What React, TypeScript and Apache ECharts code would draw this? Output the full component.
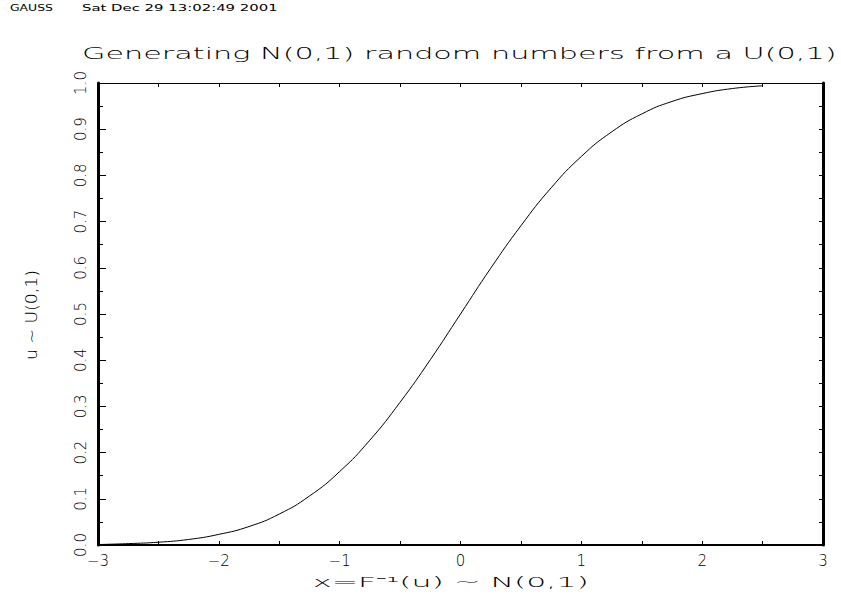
import React, { useEffect, useRef } from "react";
import * as echarts from "echarts";

const xValues = [-3, -2.75, -2.5, -2.25, -2, -1.75, -1.5, -1.25, -1, -0.75, -0.5, -0.25, 0, 0.25, 0.5, 0.75, 1, 1.25, 1.5, 1.75, 2, 2.25, 2.5];
const uValues = [0.001, 0.003, 0.006, 0.012, 0.023, 0.04, 0.067, 0.106, 0.159, 0.227, 0.309, 0.401, 0.5, 0.599, 0.691, 0.773, 0.841, 0.894, 0.933, 0.96, 0.977, 0.988, 0.994];
const xTickLabels: Record<string, string> = { "-3": "−3", "-2": "−2", "-1": "−1", "0": "0", "1": "1", "2": "2", "3": "3" };
const titleText = "Generating N(0,1) random numbers from a U(0,1)";
const headerLeft = "GAUSS";
const headerRight = "Sat Dec 29 13:02:49 2001";
const xName = "x=F⁻¹(u) ~ N(0,1)";
const yName = "u ~ U(0,1)";

const FONT = "DejaVu Sans";

function measure(text: string, size: number, weight: string | number) {
  const c = document.createElement("canvas").getContext("2d");
  if (!c) return text.length * size * 0.55;
  c.font = `${weight} ${size}px "${FONT}"`;
  return c.measureText(text).width;
}

export default function App() {
  const ref = useRef<HTMLDivElement>(null);
  useEffect(() => {
    if (!ref.current) return;
    const chart = echarts.init(ref.current, null, { renderer: "svg" });
    const titleSize = 15;
    const titleScale = 755 / measure(titleText, titleSize, 200);
    const xNameSize = 14;
    const xNameScale = 277 / measure(xName, xNameSize, 200);
    const yNameSize = 15;
    const yNameScale = 90 / measure(yName, yNameSize, 200);
    const hSize = 8;
    const h1Scale = 43 / measure(headerLeft, hSize, "normal");
    const h2Scale = 196 / measure(headerRight, hSize, "normal");

    const tickCommon = { show: true, inside: true, lineStyle: { color: "#000", width: 1 } };
    chart.setOption({
      animation: false,
      backgroundColor: "#fff",
      grid: { left: 98, right: 18, top: 83, bottom: 51, containLabel: false },
      xAxis: [
        {
          type: "value", min: -3, max: 3, interval: 1, position: "bottom",
          axisLine: { show: true, onZero: false, lineStyle: { color: "#000", width: 2 } },
          axisTick: { ...tickCommon, length: 4 },
          minorTick: { ...tickCommon, splitNumber: 2, length: 4 },
          splitLine: { show: false },
          axisLabel: {
            margin: 8, color: "#000", fontFamily: FONT, fontWeight: 200, fontSize: 15,
            formatter: (v: number) => xTickLabels[String(v)] ?? String(v),
          },
        },
        {
          type: "value", min: -3, max: 3, interval: 1, position: "top",
          axisLine: { show: true, onZero: false, lineStyle: { color: "#000", width: 1 } },
          axisTick: { ...tickCommon, length: 4 },
          minorTick: { ...tickCommon, splitNumber: 2, length: 4 },
          splitLine: { show: false },
          axisLabel: { show: false },
        },
      ],
      yAxis: [
        {
          type: "value", min: 0, max: 1, interval: 0.1, position: "left",
          axisLine: { show: true, onZero: false, lineStyle: { color: "#000", width: 3 } },
          axisTick: { ...tickCommon, length: 8 },
          minorTick: { ...tickCommon, splitNumber: 2, length: 5 },
          splitLine: { show: false },
          axisLabel: {
            rotate: 90, margin: 10, color: "#000", fontFamily: FONT, fontWeight: 200, fontSize: 15,
            formatter: (v: number) => v.toFixed(1),
          },
        },
        {
          type: "value", min: 0, max: 1, interval: 0.1, position: "right",
          axisLine: { show: true, onZero: false, lineStyle: { color: "#000", width: 3 } },
          axisTick: { ...tickCommon, length: 4 },
          minorTick: { ...tickCommon, splitNumber: 2, length: 4 },
          splitLine: { show: false },
          axisLabel: { show: false },
        },
      ],
      graphic: [
        {
          type: "text", x: 10, y: 4, scaleX: h1Scale,
          style: { text: headerLeft, font: `normal ${hSize}px "${FONT}"`, fill: "#000" },
        },
        {
          type: "text", x: 82, y: 4, scaleX: h2Scale,
          style: { text: headerRight, font: `normal ${hSize}px "${FONT}"`, fill: "#000" },
        },
        {
          type: "text", x: 82, y: 46, scaleX: titleScale,
          style: { text: titleText, font: `200 ${titleSize}px "${FONT}"`, fill: "#000" },
        },
        {
          type: "text", x: 313, y: 575, scaleX: xNameScale,
          style: { text: xName, font: `200 ${xNameSize}px "${FONT}"`, fill: "#000" },
        },
        {
          type: "text", x: 24, y: 360, rotation: Math.PI / 2, scaleX: yNameScale,
          style: { text: yName, font: `200 ${yNameSize}px "${FONT}"`, fill: "#000" },
        },
      ],
      series: [
        {
          type: "line", xAxisIndex: 0, yAxisIndex: 0, smooth: true, showSymbol: false,
          data: xValues.map((x, i) => [x, uValues[i]]),
          lineStyle: { color: "#000", width: 1 },
        },
      ],
    });
    return () => chart.dispose();
  }, []);
  return <div ref={ref} style={{ position: "absolute", left: 0, top: 0, width: 841, height: 596 }} />;
}
